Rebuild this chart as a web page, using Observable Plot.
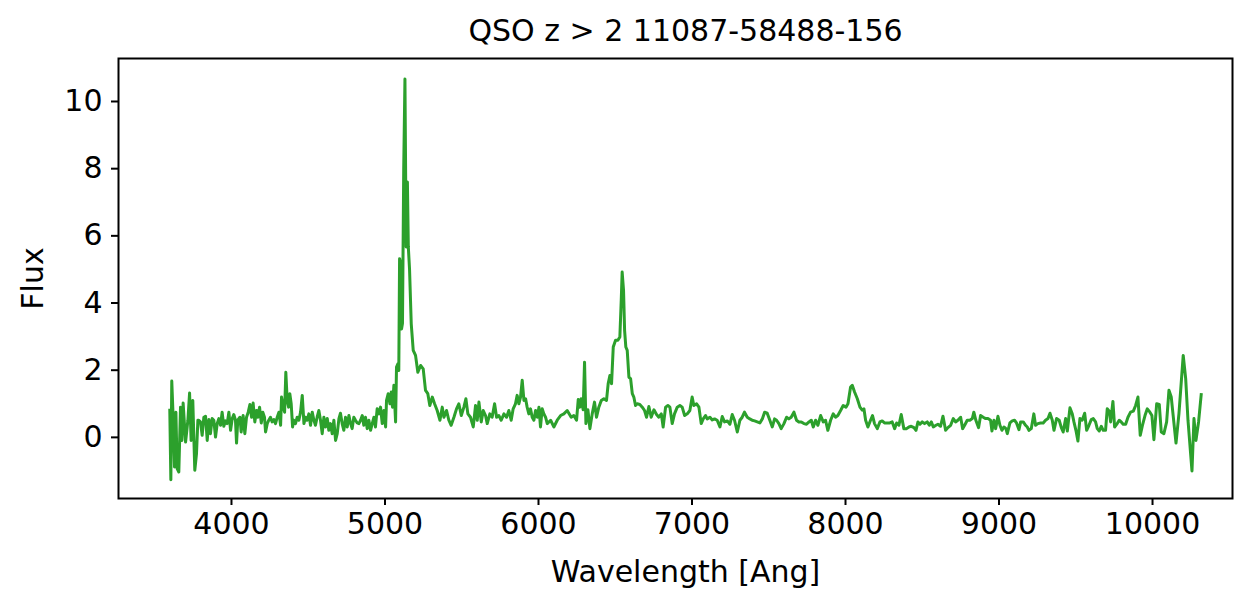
<!DOCTYPE html>
<html>
<head>
<meta charset="utf-8">
<script src="https://cdn.jsdelivr.net/npm/d3@7"></script>
<script src="https://cdn.jsdelivr.net/npm/@observablehq/plot@0.6"></script>
<style>
  html, body { margin: 0; padding: 0; background: #fff; }
  #chart { width: 1246px; height: 589px; }
  svg { font-family: "DejaVu Sans", sans-serif; }
</style>
</head>
<body>
<div id="chart"></div>
<script>
const titleText = "QSO z > 2 11087-58488-156";
const xLabel = "Wavelength [Ang]";
const yLabel = "Flux";
const xTicks = [4000, 5000, 6000, 7000, 8000, 9000, 10000];
const yTicks = [0, 2, 4, 6, 8, 10];
const xDomain = [3264, 10521];
const yDomain = [-1.82, 11.28];
const lineColor = "#2ca02c";

// Wavelength [Ang]
const wavelength = [
  3598,3605,3611,3620,3629,3638,3646,3657,3668,3677,3685,3701,3716,3727,3737,3748,3761,3772,3781,3787,
  3798,3809,3820,3831,3842,3853,3863,3874,3885,3896,3907,3918,3929,3939,3950,3961,3972,3983,3994,4005,
  4015,4026,4033,4041,4055,4063,4076,4087,4098,4109,4120,4131,4141,4152,4163,4172,4183,4194,4204,4215,
  4222,4233,4243,4254,4265,4276,4287,4298,4309,4320,4326,4337,4346,4354,4363,4372,4380,4389,4398,4406,
  4417,4428,4439,4450,4461,4472,4482,4493,4504,4515,4526,4537,4547,4558,4569,4580,4591,4602,4613,4624,
  4634,4645,4656,4667,4678,4689,4700,4710,4721,4732,4743,4754,4765,4776,4786,4797,4808,4819,4830,4841,
  4852,4862,4873,4884,4895,4906,4917,4928,4938,4949,4960,4971,4982,4993,5004,5010,5021,5032,5041,5049,
  5058,5069,5075,5084,5090,5095,5101,5108,5114,5122,5130,5138,5146,5152,5160,5171,5184,5199,5214,5232,
  5249,5264,5279,5292,5308,5323,5340,5358,5373,5384,5401,5416,5431,5449,5466,5481,5497,5514,5527,5540,
  5557,5575,5590,5601,5612,5627,5640,5655,5666,5683,5698,5714,5727,5742,5757,5775,5792,5807,5822,5835,
  5850,5861,5872,5883,5894,5905,5916,5926,5937,5948,5959,5970,5981,5992,6003,6013,6024,6035,6046,6057,
  6079,6100,6122,6144,6165,6187,6213,6230,6248,6259,6270,6278,6291,6300,6309,6322,6335,6350,6365,6378,
  6393,6409,6426,6443,6454,6465,6476,6487,6502,6517,6530,6539,6545,6554,6561,6569,6578,6589,6600,6611,
  6621,6632,6643,6660,6676,6691,6704,6719,6734,6752,6769,6784,6800,6812,6828,6843,6856,6871,6886,6904,
  6921,6936,6952,6969,6986,7001,7012,7030,7045,7060,7073,7088,7099,7117,7132,7147,7164,7182,7197,7212,
  7230,7247,7262,7277,7295,7312,7327,7342,7360,7377,7392,7408,7425,7442,7458,7473,7490,7507,7523,7538,
  7551,7566,7581,7599,7616,7631,7646,7664,7681,7696,7712,7729,7746,7762,7777,7790,7805,7820,7838,7855,
  7870,7885,7903,7920,7935,7950,7968,7985,8003,8016,8033,8044,8059,8077,8094,8109,8120,8131,8146,8163,
  8176,8189,8207,8224,8239,8254,8272,8289,8304,8320,8333,8348,8363,8380,8398,8413,8428,8446,8459,8472,
  8485,8500,8515,8532,8546,8559,8572,8589,8602,8619,8635,8652,8667,8685,8702,8717,8732,8750,8763,8776,
  8793,8810,8826,8836,8849,8867,8880,8897,8913,8928,8945,8954,8967,8978,8993,9006,9019,9032,9045,9054,
  9071,9086,9101,9114,9130,9141,9158,9173,9184,9195,9210,9227,9238,9253,9271,9288,9303,9319,9332,9347,
  9358,9375,9392,9406,9418,9434,9445,9462,9477,9488,9501,9514,9527,9542,9558,9571,9586,9601,9614,9629,
  9640,9653,9666,9679,9694,9705,9718,9727,9742,9753,9770,9783,9796,9809,9825,9840,9857,9875,9890,9905,
  9920,9936,9951,9966,9983,9996,10009,10027,10044,10057,10074,10092,10107,10122,10153,10172,10200,10216,10231,10257,
  10270,10283,10300,10318
];

// Flux
const flux = [
  0.85,-1.26,1.68,0.60,-0.88,0.75,-0.93,-1.03,0.90,-0.09,1.02,-0.14,0.51,1.32,-0.09,1.10,-0.98,-0.49,0.51,0.51,
  0.46,0.06,0.60,0.63,-0.09,0.53,0.11,0.56,0.51,0.01,0.41,0.56,0.36,0.75,0.33,0.49,0.41,0.75,0.21,0.56,
  0.68,0.51,-0.17,0.51,0.60,0.16,0.65,0.11,0.60,0.75,0.98,0.60,1.02,0.46,0.80,0.60,0.90,0.43,0.75,0.60,
  0.16,0.41,0.51,0.60,0.46,0.53,0.41,0.60,0.75,0.36,1.20,0.90,0.75,1.94,1.10,0.90,1.30,1.00,0.31,0.51,
  0.41,0.60,0.51,0.75,1.25,0.41,0.60,0.51,0.70,0.36,0.75,0.51,0.36,0.60,0.80,0.51,0.11,0.60,0.31,0.56,
  0.21,0.41,0.11,0.51,-0.09,0.11,0.56,0.72,0.41,0.21,0.60,0.31,0.65,0.41,0.26,0.60,0.51,0.43,0.41,0.51,
  0.65,0.36,0.60,0.26,0.51,0.21,0.41,0.60,0.31,0.85,0.70,0.90,0.41,0.80,0.31,1.10,1.30,1.00,1.35,0.90,
  1.55,0.46,2.09,2.19,1.99,5.32,5.20,3.23,3.40,8.00,10.67,5.67,7.60,5.67,5.00,3.38,2.59,2.44,1.94,2.14,
  2.04,1.40,1.30,0.95,1.20,1.00,0.80,0.51,0.90,0.60,0.80,0.51,0.36,0.60,0.85,1.00,0.65,0.90,1.15,0.70,
  0.60,0.31,0.95,0.51,1.05,0.46,0.80,0.65,0.41,0.70,0.60,1.00,0.60,0.65,0.51,0.70,0.60,0.80,0.51,0.85,
  1.00,1.25,1.00,1.20,1.70,1.10,1.15,0.90,0.70,0.85,0.60,0.51,0.80,0.60,0.90,0.31,0.85,0.70,0.60,0.41,
  0.51,0.31,0.51,0.65,0.70,0.80,0.60,0.65,0.51,1.13,0.90,1.15,0.82,2.24,0.41,0.82,0.26,0.70,1.05,0.60,
  0.90,1.10,1.15,1.10,1.60,1.84,1.60,2.69,2.89,2.89,2.99,4.08,4.92,4.38,3.18,2.69,2.59,1.79,1.75,1.30,
  1.20,0.95,1.00,0.98,0.90,0.80,0.60,0.92,0.60,0.82,0.68,0.60,0.70,0.31,0.90,0.95,0.90,0.41,0.70,0.90,
  0.95,0.90,0.65,0.70,0.80,1.20,0.95,1.00,0.90,0.41,0.55,0.65,0.55,0.60,0.52,0.55,0.51,0.31,0.62,0.46,
  0.49,0.39,0.68,0.51,0.16,0.51,0.60,0.75,0.60,0.55,0.51,0.49,0.46,0.43,0.55,0.75,0.72,0.51,0.31,0.55,
  0.51,0.41,0.26,0.41,0.60,0.55,0.60,0.75,0.51,0.46,0.46,0.41,0.39,0.46,0.51,0.31,0.51,0.36,0.65,0.46,
  0.51,0.21,0.51,0.70,0.60,0.65,0.80,0.95,0.90,1.00,1.50,1.55,1.35,1.15,0.90,0.81,0.85,0.51,0.31,0.51,
  0.65,0.41,0.26,0.46,0.49,0.43,0.43,0.43,0.46,0.26,0.43,0.36,0.68,0.26,0.26,0.31,0.33,0.29,0.21,0.46,
  0.39,0.46,0.41,0.46,0.36,0.46,0.31,0.36,0.39,0.33,0.63,0.21,0.29,0.36,0.56,0.46,0.51,0.60,0.26,0.36,
  0.51,0.51,0.56,0.75,0.51,0.29,0.65,0.60,0.56,0.56,0.51,0.19,0.51,0.26,0.63,0.36,0.21,0.31,0.26,0.11,
  0.43,0.49,0.51,0.43,0.23,0.46,0.46,0.36,0.31,0.21,0.26,0.70,0.36,0.41,0.43,0.43,0.51,0.56,0.72,0.51,
  0.21,0.56,0.51,0.29,0.16,0.56,0.19,0.88,0.70,0.46,0.21,-0.11,0.56,0.51,0.72,0.21,0.36,0.53,0.56,0.46,
  0.26,0.19,0.33,0.21,0.21,0.85,0.78,0.46,1.07,0.31,0.41,0.51,0.46,0.39,0.39,0.60,0.75,0.78,0.95,1.20,
  0.06,0.39,0.65,0.85,0.75,0.65,-0.07,1.00,0.98,0.16,0.11,0.46,1.40,1.20,-0.17,0.70,2.44,1.75,0.51,-1.00,
  0.56,-0.09,0.46,1.32
];

const spectrum = wavelength.map((w, i) => ({wavelength: w, flux: flux[i]}));

const fontSize = 30;
const chart = Plot.plot({
  width: 1246,
  height: 589,
  marginLeft: 118,
  marginRight: 14,
  marginTop: 58,
  marginBottom: 91,
  style: {fontFamily: "DejaVu Sans, sans-serif", background: "#fff", color: "#000"},
  x: {domain: xDomain},
  y: {domain: yDomain},
  marks: [
    Plot.line(spectrum, {x: "wavelength", y: "flux", stroke: lineColor, strokeWidth: 3, strokeLinejoin: "round", strokeLinecap: "butt"}),
    Plot.frame({stroke: "#000", strokeWidth: 2}),
    Plot.axisX({ticks: xTicks, tickFormat: d => String(d), tickSize: 7, tickPadding: 7, strokeWidth: 2, fontSize, label: null, anchor: "bottom"}),
    Plot.axisY({ticks: yTicks, tickFormat: d => String(d), tickSize: 7, tickPadding: 9, strokeWidth: 2, fontSize, label: null, anchor: "left"}),
    Plot.text([xLabel], {frameAnchor: "bottom", dx: 10, dy: 74, fontSize: 30, fill: "#000", lineAnchor: "middle", textAnchor: "middle", text: d => d}),
    Plot.text([yLabel], {frameAnchor: "left", dx: -85, rotate: -90, fontSize: 30, fill: "#000", lineAnchor: "middle", textAnchor: "middle", text: d => d}),
    Plot.text([titleText], {frameAnchor: "top", dx: 10, dy: -27, fontSize: 30, fill: "#000", lineAnchor: "middle", textAnchor: "middle", text: d => d})
  ]
});
document.getElementById("chart").appendChild(chart);
</script>
</body>
</html>
